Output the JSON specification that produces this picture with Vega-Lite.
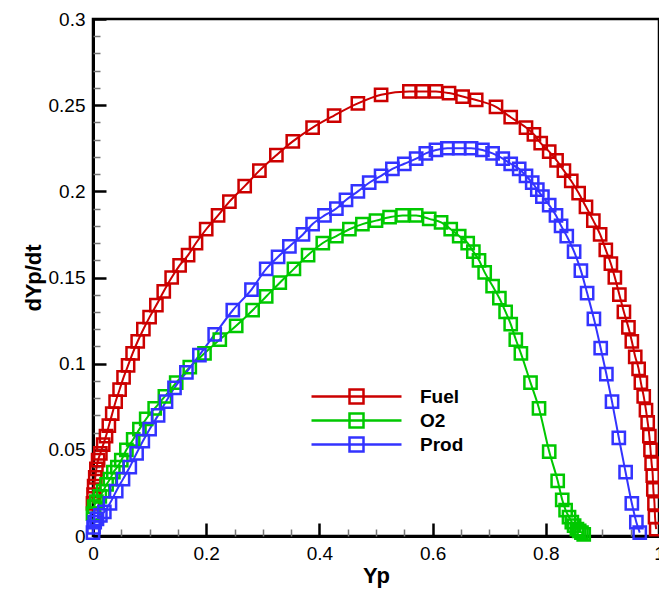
{
  "$schema": "https://vega.github.io/schema/vega-lite/v6.json",
  "width": 566,
  "height": 517,
  "autosize": "none",
  "padding": {"left": 93, "top": 19, "right": 0, "bottom": 53},
  "background": "white",
  "config": {
    "font": "Liberation Sans",
    "view": {"stroke": "black", "strokeWidth": 2.5},
    "axis": {"grid": false, "labelColor": "black", "titleColor": "black"}
  },
  "datasets": {
    "curves": [
      {"series": "Fuel", "x": 0.0, "y": 0.019},
      {"series": "Fuel", "x": 0.001, "y": 0.024},
      {"series": "Fuel", "x": 0.002, "y": 0.029},
      {"series": "Fuel", "x": 0.004, "y": 0.034},
      {"series": "Fuel", "x": 0.006, "y": 0.039},
      {"series": "Fuel", "x": 0.009, "y": 0.044},
      {"series": "Fuel", "x": 0.013, "y": 0.048},
      {"series": "Fuel", "x": 0.018, "y": 0.053},
      {"series": "Fuel", "x": 0.023, "y": 0.058},
      {"series": "Fuel", "x": 0.028, "y": 0.064},
      {"series": "Fuel", "x": 0.034, "y": 0.071},
      {"series": "Fuel", "x": 0.040, "y": 0.078},
      {"series": "Fuel", "x": 0.047, "y": 0.085},
      {"series": "Fuel", "x": 0.054, "y": 0.092},
      {"series": "Fuel", "x": 0.062, "y": 0.099},
      {"series": "Fuel", "x": 0.070, "y": 0.106},
      {"series": "Fuel", "x": 0.079, "y": 0.113},
      {"series": "Fuel", "x": 0.089, "y": 0.120},
      {"series": "Fuel", "x": 0.100, "y": 0.127},
      {"series": "Fuel", "x": 0.112, "y": 0.134},
      {"series": "Fuel", "x": 0.125, "y": 0.142},
      {"series": "Fuel", "x": 0.139, "y": 0.150},
      {"series": "Fuel", "x": 0.153, "y": 0.157},
      {"series": "Fuel", "x": 0.168, "y": 0.163},
      {"series": "Fuel", "x": 0.182, "y": 0.170},
      {"series": "Fuel", "x": 0.200, "y": 0.178},
      {"series": "Fuel", "x": 0.221, "y": 0.186},
      {"series": "Fuel", "x": 0.241, "y": 0.194},
      {"series": "Fuel", "x": 0.268, "y": 0.203},
      {"series": "Fuel", "x": 0.294, "y": 0.212},
      {"series": "Fuel", "x": 0.324, "y": 0.221},
      {"series": "Fuel", "x": 0.353, "y": 0.229},
      {"series": "Fuel", "x": 0.388, "y": 0.237},
      {"series": "Fuel", "x": 0.426, "y": 0.244},
      {"series": "Fuel", "x": 0.468, "y": 0.251},
      {"series": "Fuel", "x": 0.509, "y": 0.256},
      {"series": "Fuel", "x": 0.559, "y": 0.258},
      {"series": "Fuel", "x": 0.582, "y": 0.258},
      {"series": "Fuel", "x": 0.606, "y": 0.258},
      {"series": "Fuel", "x": 0.629, "y": 0.257},
      {"series": "Fuel", "x": 0.653, "y": 0.255},
      {"series": "Fuel", "x": 0.677, "y": 0.253},
      {"series": "Fuel", "x": 0.712, "y": 0.249},
      {"series": "Fuel", "x": 0.738, "y": 0.243},
      {"series": "Fuel", "x": 0.765, "y": 0.237},
      {"series": "Fuel", "x": 0.779, "y": 0.233},
      {"series": "Fuel", "x": 0.791, "y": 0.228},
      {"series": "Fuel", "x": 0.806, "y": 0.223},
      {"series": "Fuel", "x": 0.819, "y": 0.218},
      {"series": "Fuel", "x": 0.832, "y": 0.212},
      {"series": "Fuel", "x": 0.845, "y": 0.206},
      {"series": "Fuel", "x": 0.858, "y": 0.199},
      {"series": "Fuel", "x": 0.871, "y": 0.191},
      {"series": "Fuel", "x": 0.884, "y": 0.183},
      {"series": "Fuel", "x": 0.896, "y": 0.175},
      {"series": "Fuel", "x": 0.906, "y": 0.166},
      {"series": "Fuel", "x": 0.915, "y": 0.158},
      {"series": "Fuel", "x": 0.922, "y": 0.150},
      {"series": "Fuel", "x": 0.930, "y": 0.140},
      {"series": "Fuel", "x": 0.938, "y": 0.130},
      {"series": "Fuel", "x": 0.946, "y": 0.121},
      {"series": "Fuel", "x": 0.952, "y": 0.113},
      {"series": "Fuel", "x": 0.958, "y": 0.104},
      {"series": "Fuel", "x": 0.964, "y": 0.097},
      {"series": "Fuel", "x": 0.968, "y": 0.089},
      {"series": "Fuel", "x": 0.973, "y": 0.081},
      {"series": "Fuel", "x": 0.977, "y": 0.073},
      {"series": "Fuel", "x": 0.980, "y": 0.066},
      {"series": "Fuel", "x": 0.983, "y": 0.058},
      {"series": "Fuel", "x": 0.985, "y": 0.050},
      {"series": "Fuel", "x": 0.987, "y": 0.042},
      {"series": "Fuel", "x": 0.989, "y": 0.035},
      {"series": "Fuel", "x": 0.990, "y": 0.027},
      {"series": "Fuel", "x": 0.992, "y": 0.019},
      {"series": "Fuel", "x": 0.993, "y": 0.011},
      {"series": "Fuel", "x": 0.995, "y": 0.004},

      {"series": "O2", "x": 0.0, "y": 0.013},
      {"series": "O2", "x": 0.002, "y": 0.017},
      {"series": "O2", "x": 0.006, "y": 0.020},
      {"series": "O2", "x": 0.012, "y": 0.023},
      {"series": "O2", "x": 0.018, "y": 0.026},
      {"series": "O2", "x": 0.024, "y": 0.030},
      {"series": "O2", "x": 0.030, "y": 0.033},
      {"series": "O2", "x": 0.036, "y": 0.037},
      {"series": "O2", "x": 0.043, "y": 0.040},
      {"series": "O2", "x": 0.050, "y": 0.044},
      {"series": "O2", "x": 0.059, "y": 0.050},
      {"series": "O2", "x": 0.071, "y": 0.056},
      {"series": "O2", "x": 0.082, "y": 0.062},
      {"series": "O2", "x": 0.094, "y": 0.068},
      {"series": "O2", "x": 0.109, "y": 0.074},
      {"series": "O2", "x": 0.127, "y": 0.081},
      {"series": "O2", "x": 0.147, "y": 0.089},
      {"series": "O2", "x": 0.171, "y": 0.098},
      {"series": "O2", "x": 0.197, "y": 0.106},
      {"series": "O2", "x": 0.224, "y": 0.114},
      {"series": "O2", "x": 0.253, "y": 0.122},
      {"series": "O2", "x": 0.282, "y": 0.131},
      {"series": "O2", "x": 0.306, "y": 0.139},
      {"series": "O2", "x": 0.330, "y": 0.147},
      {"series": "O2", "x": 0.355, "y": 0.155},
      {"series": "O2", "x": 0.380, "y": 0.163},
      {"series": "O2", "x": 0.406, "y": 0.170},
      {"series": "O2", "x": 0.430, "y": 0.174},
      {"series": "O2", "x": 0.453, "y": 0.178},
      {"series": "O2", "x": 0.476, "y": 0.181},
      {"series": "O2", "x": 0.500, "y": 0.183},
      {"series": "O2", "x": 0.524, "y": 0.185},
      {"series": "O2", "x": 0.547, "y": 0.186},
      {"series": "O2", "x": 0.571, "y": 0.186},
      {"series": "O2", "x": 0.594, "y": 0.184},
      {"series": "O2", "x": 0.615, "y": 0.182},
      {"series": "O2", "x": 0.632, "y": 0.178},
      {"series": "O2", "x": 0.647, "y": 0.174},
      {"series": "O2", "x": 0.662, "y": 0.170},
      {"series": "O2", "x": 0.672, "y": 0.165},
      {"series": "O2", "x": 0.682, "y": 0.160},
      {"series": "O2", "x": 0.692, "y": 0.153},
      {"series": "O2", "x": 0.706, "y": 0.145},
      {"series": "O2", "x": 0.718, "y": 0.138},
      {"series": "O2", "x": 0.729, "y": 0.130},
      {"series": "O2", "x": 0.738, "y": 0.123},
      {"series": "O2", "x": 0.747, "y": 0.114},
      {"series": "O2", "x": 0.756, "y": 0.106},
      {"series": "O2", "x": 0.773, "y": 0.089},
      {"series": "O2", "x": 0.788, "y": 0.074},
      {"series": "O2", "x": 0.806, "y": 0.049},
      {"series": "O2", "x": 0.821, "y": 0.032},
      {"series": "O2", "x": 0.829, "y": 0.021},
      {"series": "O2", "x": 0.835, "y": 0.015},
      {"series": "O2", "x": 0.841, "y": 0.011},
      {"series": "O2", "x": 0.846, "y": 0.008},
      {"series": "O2", "x": 0.850, "y": 0.006},
      {"series": "O2", "x": 0.855, "y": 0.004},
      {"series": "O2", "x": 0.859, "y": 0.003},
      {"series": "O2", "x": 0.863, "y": 0.002},
      {"series": "O2", "x": 0.867, "y": 0.001},

      {"series": "Prod", "x": 0.0, "y": 0.002},
      {"series": "Prod", "x": 0.001, "y": 0.005},
      {"series": "Prod", "x": 0.003, "y": 0.008},
      {"series": "Prod", "x": 0.007, "y": 0.010},
      {"series": "Prod", "x": 0.013, "y": 0.012},
      {"series": "Prod", "x": 0.020, "y": 0.014},
      {"series": "Prod", "x": 0.030, "y": 0.019},
      {"series": "Prod", "x": 0.041, "y": 0.026},
      {"series": "Prod", "x": 0.053, "y": 0.033},
      {"series": "Prod", "x": 0.065, "y": 0.040},
      {"series": "Prod", "x": 0.077, "y": 0.048},
      {"series": "Prod", "x": 0.088, "y": 0.055},
      {"series": "Prod", "x": 0.100, "y": 0.062},
      {"series": "Prod", "x": 0.115, "y": 0.070},
      {"series": "Prod", "x": 0.129, "y": 0.078},
      {"series": "Prod", "x": 0.144, "y": 0.086},
      {"series": "Prod", "x": 0.165, "y": 0.095},
      {"series": "Prod", "x": 0.188, "y": 0.105},
      {"series": "Prod", "x": 0.215, "y": 0.117},
      {"series": "Prod", "x": 0.247, "y": 0.131},
      {"series": "Prod", "x": 0.280, "y": 0.143},
      {"series": "Prod", "x": 0.306, "y": 0.155},
      {"series": "Prod", "x": 0.327, "y": 0.162},
      {"series": "Prod", "x": 0.347, "y": 0.168},
      {"series": "Prod", "x": 0.371, "y": 0.175},
      {"series": "Prod", "x": 0.388, "y": 0.181},
      {"series": "Prod", "x": 0.409, "y": 0.186},
      {"series": "Prod", "x": 0.430, "y": 0.190},
      {"series": "Prod", "x": 0.447, "y": 0.195},
      {"series": "Prod", "x": 0.468, "y": 0.200},
      {"series": "Prod", "x": 0.488, "y": 0.205},
      {"series": "Prod", "x": 0.509, "y": 0.209},
      {"series": "Prod", "x": 0.529, "y": 0.213},
      {"series": "Prod", "x": 0.550, "y": 0.216},
      {"series": "Prod", "x": 0.571, "y": 0.219},
      {"series": "Prod", "x": 0.588, "y": 0.222},
      {"series": "Prod", "x": 0.606, "y": 0.224},
      {"series": "Prod", "x": 0.626, "y": 0.225},
      {"series": "Prod", "x": 0.647, "y": 0.225},
      {"series": "Prod", "x": 0.668, "y": 0.225},
      {"series": "Prod", "x": 0.688, "y": 0.224},
      {"series": "Prod", "x": 0.706, "y": 0.222},
      {"series": "Prod", "x": 0.724, "y": 0.219},
      {"series": "Prod", "x": 0.738, "y": 0.216},
      {"series": "Prod", "x": 0.753, "y": 0.213},
      {"series": "Prod", "x": 0.765, "y": 0.209},
      {"series": "Prod", "x": 0.776, "y": 0.205},
      {"series": "Prod", "x": 0.785, "y": 0.201},
      {"series": "Prod", "x": 0.794, "y": 0.197},
      {"series": "Prod", "x": 0.806, "y": 0.192},
      {"series": "Prod", "x": 0.818, "y": 0.186},
      {"series": "Prod", "x": 0.827, "y": 0.180},
      {"series": "Prod", "x": 0.837, "y": 0.174},
      {"series": "Prod", "x": 0.850, "y": 0.165},
      {"series": "Prod", "x": 0.862, "y": 0.154},
      {"series": "Prod", "x": 0.873, "y": 0.141},
      {"series": "Prod", "x": 0.885, "y": 0.126},
      {"series": "Prod", "x": 0.897, "y": 0.109},
      {"series": "Prod", "x": 0.907, "y": 0.094},
      {"series": "Prod", "x": 0.917, "y": 0.078},
      {"series": "Prod", "x": 0.929, "y": 0.057},
      {"series": "Prod", "x": 0.941, "y": 0.037},
      {"series": "Prod", "x": 0.952, "y": 0.019},
      {"series": "Prod", "x": 0.960, "y": 0.008},
      {"series": "Prod", "x": 0.966, "y": 0.002}
    ]
  },
  "data": {"name": "curves"},
  "layer": [
    {
      "mark": {"type": "line", "strokeWidth": 2, "interpolate": "monotone"},
      "encoding": {
        "x": {
          "field": "x", "type": "quantitative",
          "scale": {"domain": [0, 1], "nice": false, "zero": false},
          "axis": {
            "orient": "bottom", "values": [0, 0.2, 0.4, 0.6, 0.8, 1], "format": "~g",
            "tickSize": -13, "tickWidth": 2.5, "tickColor": "black",
            "domainColor": "black", "domainWidth": 3,
            "labelFontSize": 19, "labelPadding": 21, "labelFlush": false, "labelOverlap": false,
            "title": "Yp", "titleFontSize": 22, "titleFontWeight": "bold", "titlePadding": 2
          }
        },
        "y": {
          "field": "y", "type": "quantitative",
          "scale": {"domain": [0, 0.3], "nice": false, "zero": false},
          "axis": {
            "orient": "left", "values": [0, 0.05, 0.1, 0.15, 0.2, 0.25, 0.3], "format": "~g",
            "tickSize": -13, "tickWidth": 2.5, "tickColor": "black",
            "domainColor": "black", "domainWidth": 3,
            "labelFontSize": 19, "labelPadding": 21, "labelFlush": false, "labelOverlap": false,
            "title": "dYp/dt", "titleFontSize": 22, "titleFontWeight": "bold", "titlePadding": 3
          }
        },
        "color": {
          "field": "series", "type": "nominal",
          "scale": {"domain": ["Fuel", "O2", "Prod"], "range": ["#cc0000", "#00c800", "#3333ff"]},
          "legend": {
            "orient": "none", "legendX": 254, "legendY": 368, "title": null,
            "symbolType": "M-5.625,0H5.625M-0.875,-0.875H0.875V0.875H-0.875Z",
            "symbolSize": 256, "symbolStrokeWidth": 2.5, "symbolFillColor": "transparent",
            "labelFontSize": 19, "labelFontWeight": "bold", "labelColor": "black",
            "labelOffset": 54, "rowPadding": -1
          }
        }
      }
    },
    {
      "mark": {"type": "point", "shape": "square", "filled": false, "size": 150, "strokeWidth": 2.5, "opacity": 1},
      "encoding": {
        "x": {
          "field": "x", "type": "quantitative",
          "axis": {
            "orient": "bottom",
            "values": [0.05, 0.1, 0.15, 0.25, 0.3, 0.35, 0.45, 0.5, 0.55, 0.65, 0.7, 0.75, 0.85, 0.9, 0.95],
            "labels": false, "domain": false, "tickSize": -7, "tickWidth": 1.5, "tickColor": "#777777", "title": null
          }
        },
        "y": {
          "field": "y", "type": "quantitative",
          "axis": {
            "orient": "left",
            "values": [0.01, 0.02, 0.03, 0.04, 0.06, 0.07, 0.08, 0.09, 0.11, 0.12, 0.13, 0.14, 0.16, 0.17, 0.18, 0.19, 0.21, 0.22, 0.23, 0.24, 0.26, 0.27, 0.28, 0.29],
            "labels": false, "domain": false, "tickSize": -7, "tickWidth": 1.5, "tickColor": "#777777", "title": null
          }
        },
        "color": {"field": "series", "type": "nominal", "legend": null}
      }
    }
  ],
  "resolve": {"axis": {"x": "independent", "y": "independent"}}
}
